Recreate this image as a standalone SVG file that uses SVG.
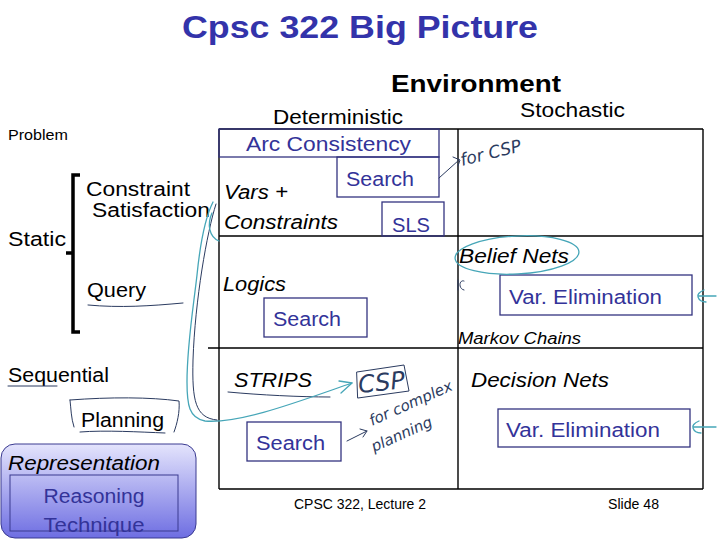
<svg xmlns="http://www.w3.org/2000/svg" width="720" height="540" viewBox="0 0 720 540">
<defs>
<linearGradient id="repGrad" x1="0" y1="0" x2="0" y2="1">
<stop offset="0" stop-color="#e4e4fc"/>
<stop offset="1" stop-color="#6e6ee2"/>
</linearGradient>
<clipPath id="slsClip"><rect x="382" y="202" width="62" height="34"/></clipPath>
<style>
text{font-family:"Liberation Sans",Arial,sans-serif;fill:#000}
.t20{font-size:20px}
.it{font-style:italic}
.blue{fill:#333399}
.box{fill:none;stroke:#333380;stroke-width:1.3}
.grid{stroke:#000;stroke-width:1.4;fill:none}
.pen{fill:none;stroke:#2b3b60;stroke-width:1;stroke-linecap:round;stroke-linejoin:round}
.teal{fill:none;stroke:#46a6b8;stroke-width:1.3;stroke-linecap:round;stroke-linejoin:round}
.hand{font-family:"DejaVu Sans",sans-serif;font-style:italic;font-weight:200;fill:#2b3b60}
</style>
</defs>
<rect width="720" height="540" fill="#fff"/>

<g id="title">
<text x="182" y="38" font-size="32" font-weight="bold" style="fill:#3333aa" textLength="356" lengthAdjust="spacingAndGlyphs">Cpsc 322 Big Picture</text>
</g>
<g id="axes">
<text x="391" y="92" font-size="24" font-weight="bold" textLength="170" lengthAdjust="spacingAndGlyphs">Environment</text>
<text x="273" y="124" class="t20" textLength="130" lengthAdjust="spacingAndGlyphs">Deterministic</text>
<text x="520" y="117" class="t20" textLength="105" lengthAdjust="spacingAndGlyphs">Stochastic</text>
<text x="8" y="140" font-size="14" textLength="60" lengthAdjust="spacingAndGlyphs">Problem</text>
<text x="8" y="246" class="t20" textLength="58" lengthAdjust="spacingAndGlyphs">Static</text>
<text x="86" y="196" class="t20" textLength="104" lengthAdjust="spacingAndGlyphs">Constraint</text>
<text x="92" y="217" class="t20" textLength="118" lengthAdjust="spacingAndGlyphs">Satisfaction</text>
<text x="87" y="297" class="t20" textLength="59" lengthAdjust="spacingAndGlyphs">Query</text>
<text x="8" y="382" class="t20" textLength="101" lengthAdjust="spacingAndGlyphs">Sequential</text>
<text x="81" y="427" class="t20" textLength="83" lengthAdjust="spacingAndGlyphs">Planning</text>
<path d="M80,175 L73,175 L73,332 L80,332 M66,253 L73,253" fill="none" stroke="#000" stroke-width="3.5"/>
</g>

<g id="grid">
<path class="grid" d="M219,129 H703 M219,129 V489 M458,129 V489 M703,129 V489 M219,236 H703 M208,348 H703 M219,489 H703"/>
</g>

<g id="csp-cell">
<rect class="box" x="219" y="129" width="220" height="28"/>
<text x="246" y="151" class="t20 blue" textLength="165" lengthAdjust="spacingAndGlyphs">Arc Consistency</text>
<rect class="box" x="337" y="157" width="102" height="40"/>
<text x="346" y="186" class="t20 blue" textLength="68" lengthAdjust="spacingAndGlyphs">Search</text>
<rect class="box" x="382" y="202" width="62" height="34"/>
<text x="392" y="232" class="t20 blue" clip-path="url(#slsClip)" textLength="38" lengthAdjust="spacingAndGlyphs">SLS</text>
<text x="224" y="199" class="t20 it" textLength="64" lengthAdjust="spacingAndGlyphs">Vars +</text>
<text x="224" y="229" class="t20 it" textLength="114" lengthAdjust="spacingAndGlyphs">Constraints</text>
</g>

<g id="logics-cell">
<text x="223" y="291" class="t20 it" textLength="63" lengthAdjust="spacingAndGlyphs">Logics</text>
<rect class="box" x="264" y="298" width="103" height="39"/>
<text x="273" y="326" class="t20 blue" textLength="68" lengthAdjust="spacingAndGlyphs">Search</text>
</g>

<g id="strips-cell">
<text x="234" y="387" class="t20 it" textLength="78" lengthAdjust="spacingAndGlyphs">STRIPS</text>
<rect class="box" x="247" y="422" width="94" height="39"/>
<text x="256" y="450" class="t20 blue" textLength="69" lengthAdjust="spacingAndGlyphs">Search</text>
</g>

<g id="belief-cell">
<text x="459" y="263" class="t20 it" textLength="110" lengthAdjust="spacingAndGlyphs">Belief Nets</text>
<rect class="box" x="500" y="275" width="192" height="40"/>
<text x="509" y="304" class="t20 blue" textLength="153" lengthAdjust="spacingAndGlyphs">Var. Elimination</text>
<text x="458" y="344" font-size="16" class="it" textLength="123" lengthAdjust="spacingAndGlyphs">Markov Chains</text>
</g>

<g id="decision-cell">
<text x="471" y="387" font-size="21" class="it" textLength="138" lengthAdjust="spacingAndGlyphs">Decision Nets</text>
<rect class="box" x="498" y="409" width="192" height="38"/>
<text x="506" y="437" class="t20 blue" textLength="154" lengthAdjust="spacingAndGlyphs">Var. Elimination</text>
</g>

<g id="legend">
<rect x="1" y="444" width="195" height="94" rx="14" fill="url(#repGrad)" stroke="#3a3a90" stroke-width="1"/>
<text x="8" y="470" class="t20 it" textLength="152" lengthAdjust="spacingAndGlyphs">Representation</text>
<rect x="10" y="475" width="168" height="56" fill="none" stroke="#3a3a90" stroke-width="1"/>
<text x="94" y="503" class="t20 blue" text-anchor="middle" textLength="101" lengthAdjust="spacingAndGlyphs">Reasoning</text>
<text x="94" y="532" class="t20 blue" text-anchor="middle" textLength="101" lengthAdjust="spacingAndGlyphs">Technique</text>
</g>

<g id="footer">
<text x="294" y="509" font-size="14" textLength="132" lengthAdjust="spacingAndGlyphs">CPSC 322, Lecture 2</text>
<text x="608" y="509" font-size="14" textLength="51" lengthAdjust="spacingAndGlyphs">Slide 48</text>
</g>

<g id="annotations">
<text class="hand" x="0" y="0" font-size="17" transform="translate(462,166) rotate(-14)">for CSP</text>
<path class="pen" d="M357,372 L404,365 L409,391 L358,398 Z"/>
<text class="hand" x="0" y="0" font-size="24" transform="translate(359,393) rotate(-6)">CSP</text>
<text class="hand" x="0" y="0" font-size="15" transform="translate(372,426) rotate(-24)">for complex</text>
<text class="hand" x="0" y="0" font-size="15" transform="translate(374,452) rotate(-24)">planning</text>
<path class="pen" d="M88,305 C120,308 150,306 183,303"/>
<path class="pen" d="M8,386 L57,386"/>
<path class="pen" d="M228,392 C260,395 300,397 330,397"/>
<path class="pen" d="M70,400 C110,397 150,397 179,401 C180,412 177,424 174,432 M165,433 C140,432 105,430 80,432 M74,427 C71,418 71,408 70,400"/>
<ellipse class="teal" cx="517" cy="255" rx="62" ry="19" transform="rotate(-3 517 255)"/>
<path class="pen" d="M464,281 C459,279 458,289 464,290 M458,280 V290"/>
</g>

<g id="connectors">
<path class="pen" d="M439,178 L459,160 M453,157 L460,160 L458,166"/>
<path class="teal" d="M213,202 C205,218 200,245 197,275 C193,310 187,345 187,382 C187,405 189,418 205,421 C240,424 300,401 352,383"/>
<path class="pen" d="M216,204 C207,232 195,300 193,360 C192,400 195,418 217,420"/>
<path class="teal" d="M339,381 L352,383 L341,393"/>
<path class="teal" d="M212,213 C207,224 209,237 219,241"/>
<path class="pen" d="M347,441 L367,431 M360,429 L367,431 L363,437"/>
<path class="teal" d="M716,296 H698 M704,290 C699,292 697,295 698,297 C699,300 702,302 706,302"/>
<path class="teal" d="M716,427 H693 M699,421 C694,423 692,426 693,428 C694,431 697,433 701,433"/>
</g>
</svg>
